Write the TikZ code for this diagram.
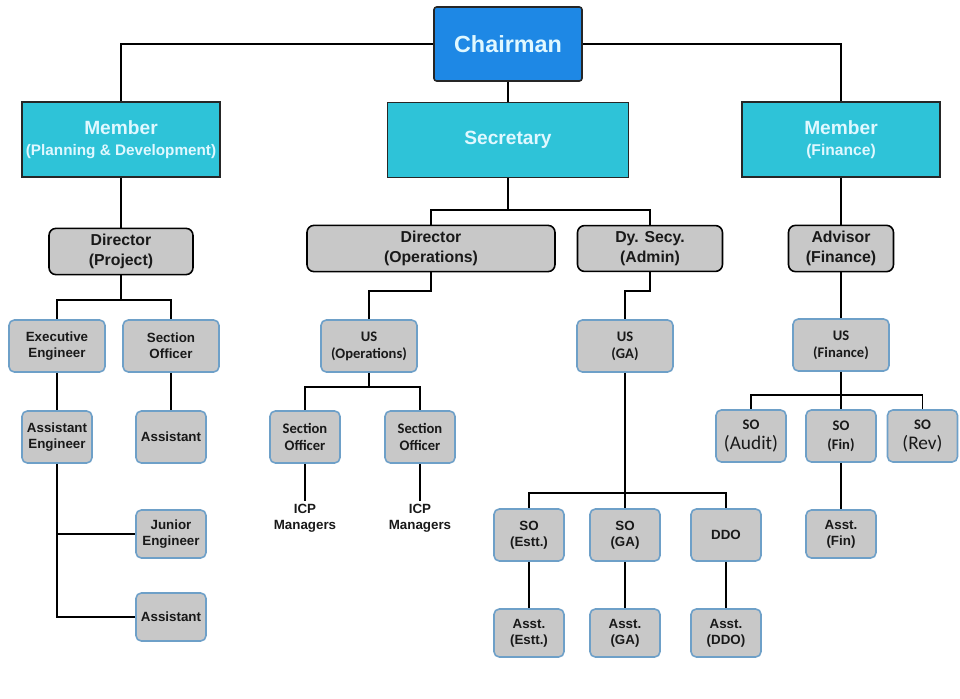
\documentclass[tikz,border=0pt]{standalone}
\usepackage{fontspec}
\setmainfont{Liberation Sans}
\newfontfamily\carlito{Carlito}
\definecolor{chairblue}{RGB}{30,136,229}
\definecolor{memcyan}{RGB}{46,195,216}
\definecolor{paletext}{RGB}{224,248,255}
\definecolor{boxgray}{RGB}{200,200,200}
\definecolor{edgeblue}{RGB}{110,160,200}
\definecolor{inktext}{RGB}{25,25,25}

\begin{document}
\begin{tikzpicture}[x=0.02cm, y=-0.02cm, line width=1.1pt,
  chairbox/.style={draw=black!85, line width=0.9pt, fill=chairblue, rounded corners=1.5pt, text=paletext, align=center, minimum width=2.96cm, minimum height=1.48cm, font=\fontsize{13.3}{16}\selectfont\bfseries},
  membox/.style={draw=black!85, line width=0.9pt, fill=memcyan, text=paletext, align=center, inner xsep=0.5pt, minimum width=3.96cm, minimum height=1.5cm, font=\bfseries},
  dirbox/.style={draw=black, line width=0.9pt, fill=boxgray, rounded corners=4pt, text=inktext, align=center, minimum height=0.9cm, font=\fontsize{9}{11.3}\selectfont\bfseries},
  staffbox/.style={draw=edgeblue, line width=0.9pt, fill=boxgray, rounded corners=3pt, text=inktext, align=center, inner sep=1pt, minimum width=1.4cm, minimum height=1.04cm, font=\fontsize{7.6}{9}\selectfont\bfseries},
  usbox/.style={staffbox, minimum width=1.92cm, font=\carlito\fontsize{8.3}{9.6}\selectfont\bfseries},
  plaintag/.style={text=inktext, align=center, inner sep=1pt, font=\fontsize{7.6}{9}\selectfont\bfseries}]
\useasboundingbox (0,0) rectangle (960,699);

\node[chairbox] (chair) at (508,44) {Chairman};
\node[membox] (mempd) at (121,139.5) {\fontsize{10.9}{13}\selectfont Member\\\fontsize{8.7}{11}\selectfont(Planning \& Development)};
\node[membox, minimum width=4.82cm] (secr) at (508,140) {\fontsize{10.9}{13}\selectfont Secretary};
\node[membox] (memfin) at (841,139.5) {\fontsize{10.9}{13}\selectfont Member\\\fontsize{8.9}{11}\selectfont(Finance)};

\node[dirbox, minimum width=2.88cm] (dirproj) at (121,251.5) {Director\\(Project)};
\node[dirbox, minimum width=4.96cm] (dirops) at (431,248.5) {Director\\(Operations)};
\node[dirbox, minimum width=2.9cm] (dysecy) at (650,248.5) {Dy. Secy.\\(Admin)};
\node[dirbox, minimum width=2.1cm] (advisor) at (841,248.5) {Advisor\\(Finance)};

\node[staffbox, minimum width=1.92cm] (exeng) at (57,346) {Executive\\Engineer};
\node[staffbox, minimum width=1.92cm] (secoff) at (171,346) {Section\\Officer};
\node[staffbox] (aseng) at (57,437) {Assistant\\Engineer};
\node[staffbox] (asstone) at (171,437) {Assistant};
\node[staffbox, minimum height=0.96cm] (jreng) at (171,534) {Junior\\Engineer};
\node[staffbox, minimum height=0.96cm] (assttwo) at (171,617) {Assistant};

\node[usbox] (usops) at (369,346) {US\\(Operations)};
\node[usbox, minimum width=1.4cm] (sooa) at (305,437) {Section\\Officer};
\node[usbox, minimum width=1.4cm] (soob) at (420,437) {Section\\Officer};
\node[plaintag] (icpa) at (305,518) {ICP\\Managers};
\node[plaintag] (icpb) at (420,518) {ICP\\Managers};

\node[usbox] (usga) at (625,346) {US\\(GA)};
\node[staffbox] (soestt) at (529,535) {SO\\(Estt.)};
\node[staffbox] (soga) at (625,535) {SO\\(GA)};
\node[staffbox] (ddo) at (726,535) {DDO};
\node[staffbox, minimum height=0.96cm] (asestt) at (529,633) {Asst.\\(Estt.)};
\node[staffbox, minimum height=0.96cm] (asga) at (625,633) {Asst.\\(GA)};
\node[staffbox, minimum height=0.96cm] (asddo) at (726,633) {Asst.\\(DDO)};

\node[usbox] (usfin) at (841,345) {US\\(Finance)};
\node[staffbox, font=\carlito\fontsize{8.3}{11}\selectfont\bfseries] (soaud) at (751,436) {SO\\{\mdseries\fontsize{11}{12}\selectfont(Audit)}};
\node[staffbox, font=\carlito\fontsize{8.3}{11}\selectfont\bfseries] (sofin) at (841,436) {SO\\(Fin)};
\node[staffbox, font=\carlito\fontsize{8.3}{11}\selectfont\bfseries] (sorev) at (922.5,436) {SO\\{\mdseries\fontsize{11}{12}\selectfont(Rev)}};
\node[staffbox, minimum height=0.96cm] (asfin) at (841,534) {Asst.\\(Fin)};

\coordinate (secj) at (508,210);
\coordinate (pj) at (121,300);
\coordinate (opsj) at (431,291);
\coordinate (dyj) at (650,291);
\coordinate (usopsj) at (369,387);
\coordinate (usgaj) at (625,493);
\coordinate (finj) at (841,395);

\draw (chair.west) -| (mempd.north);
\draw (chair.east) -| (memfin.north);
\draw (chair.south) -- (secr.north);
\draw (mempd.south) -- (dirproj.north);
\draw (secr.south) -- (secj);
\draw (secj) -| (dirops.north);
\draw (secj) -| (dysecy.north);
\draw (memfin.south) -- (advisor.north);

\draw (dirproj.south) -- (pj);
\draw (pj) -| (exeng.north);
\draw (pj) -| (secoff.north);
\draw (exeng.south) -- (aseng.north);
\draw (secoff.south) -- (asstone.north);
\draw (aseng.south) |- (jreng.west);
\draw (aseng.south) |- (assttwo.west);

\draw (dirops.south) -- (opsj) -| (usops.north);
\draw (usops.south) -- (usopsj);
\draw (usopsj) -| (sooa.north);
\draw (usopsj) -| (soob.north);
\draw (sooa.south) -- (icpa.north);
\draw (soob.south) -- (icpb.north);

\draw (dysecy.south) -- (dyj) -| (usga.north);
\draw (usga.south) -- (soga.north);
\draw (usgaj) -| (soestt.north);
\draw (usgaj) -| (ddo.north);
\draw (soestt.south) -- (asestt.north);
\draw (soga.south) -- (asga.north);
\draw (ddo.south) -- (asddo.north);

\draw (advisor.south) -- (usfin.north);
\draw (usfin.south) -- (finj);
\draw (finj) -| (soaud.north);
\draw (finj) -| (sorev.north);
\draw (finj) -- (sofin.north);
\draw (sofin.south) -- (asfin.north);
\end{tikzpicture}
\end{document}
